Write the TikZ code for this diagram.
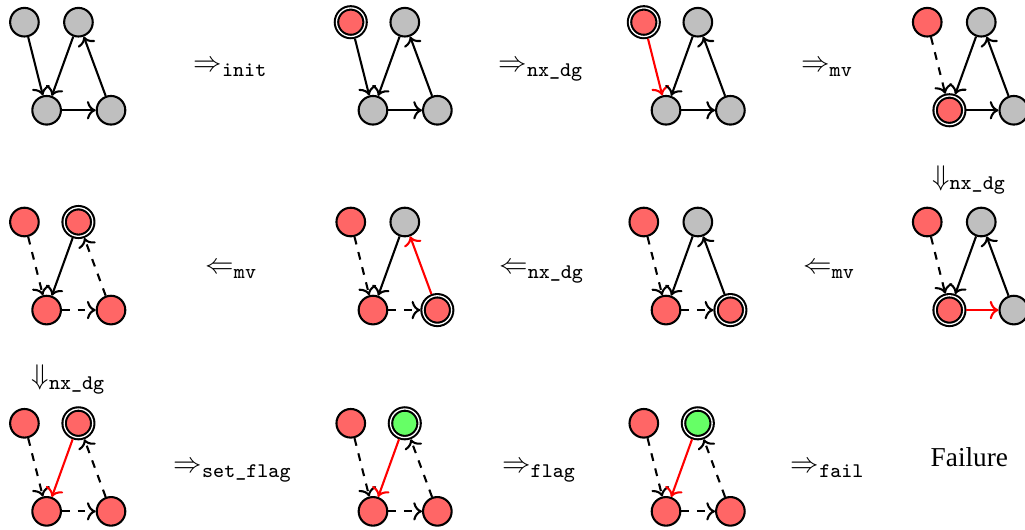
\documentclass[tikz,border=0pt,11pt]{standalone}
\usepackage{amsmath}
\usepackage[no-math]{fontspec}
\setmainfont{Liberation Serif}
\usepackage{tikz}
\usetikzlibrary{arrows,arrows.meta}
\tikzset{
    vertex/.style = {draw, circle, thick,
        minimum size=11pt,
        inner sep=0pt},
    gry/.style = {fill=black!25},
    rd/.style = {fill=red!60},
    grn/.style = {fill=green!60},
    cur/.style = {double, double distance=0.5pt, outer sep=1.05pt},
    conn/.style = {draw, ->, thick},
    done/.style = {dashed},
    act/.style = {red},
    lbl/.style = {anchor=base west, inner sep=0pt}
}

\begin{document}
\begin{tikzpicture}
    \useasboundingbox (0,0) rectangle (13.851,-7.149);
    % row 1
    \begin{scope}[shift={(0.33,-0.30)}]
        \node[vertex,gry] (g1a) at (0,0) {};
        \node[vertex,gry] (g1b) at (0.73,0) {};
        \node[vertex,gry] (g1c) at (0.30,-1.19) {};
        \node[vertex,gry] (g1d) at (1.17,-1.19) {};
    \end{scope}
        \draw[conn] (g1a) -- (g1c);
        \draw[conn] (g1b) -- (g1c);
        \draw[conn] (g1c) -- (g1d);
        \draw[conn] (g1d) -- (g1b);
    \begin{scope}[shift={(4.74,-0.30)}]
        \node[vertex,rd,cur] (g2a) at (0,0) {};
        \node[vertex,gry] (g2b) at (0.73,0) {};
        \node[vertex,gry] (g2c) at (0.30,-1.19) {};
        \node[vertex,gry] (g2d) at (1.17,-1.19) {};
    \end{scope}
        \draw[conn] (g2a) -- (g2c);
        \draw[conn] (g2b) -- (g2c);
        \draw[conn] (g2c) -- (g2d);
        \draw[conn] (g2d) -- (g2b);
    \begin{scope}[shift={(8.70,-0.30)}]
        \node[vertex,rd,cur] (g3a) at (0,0) {};
        \node[vertex,gry] (g3b) at (0.73,0) {};
        \node[vertex,gry] (g3c) at (0.30,-1.19) {};
        \node[vertex,gry] (g3d) at (1.17,-1.19) {};
    \end{scope}
        \draw[conn,act] (g3a) -- (g3c);
        \draw[conn] (g3b) -- (g3c);
        \draw[conn] (g3c) -- (g3d);
        \draw[conn] (g3d) -- (g3b);
    \begin{scope}[shift={(12.53,-0.30)}]
        \node[vertex,rd] (g4a) at (0,0) {};
        \node[vertex,gry] (g4b) at (0.73,0) {};
        \node[vertex,rd,cur] (g4c) at (0.30,-1.19) {};
        \node[vertex,gry] (g4d) at (1.17,-1.19) {};
    \end{scope}
        \draw[conn,done] (g4a) -- (g4c);
        \draw[conn] (g4b) -- (g4c);
        \draw[conn] (g4c) -- (g4d);
        \draw[conn] (g4d) -- (g4b);
    % row 2
    \begin{scope}[shift={(12.53,-3.00)}]
        \node[vertex,rd] (g5a) at (0,0) {};
        \node[vertex,gry] (g5b) at (0.73,0) {};
        \node[vertex,rd,cur] (g5c) at (0.30,-1.19) {};
        \node[vertex,gry] (g5d) at (1.17,-1.19) {};
    \end{scope}
        \draw[conn,done] (g5a) -- (g5c);
        \draw[conn] (g5b) -- (g5c);
        \draw[conn,act] (g5c) -- (g5d);
        \draw[conn] (g5d) -- (g5b);
    \begin{scope}[shift={(8.70,-3.00)}]
        \node[vertex,rd] (g6a) at (0,0) {};
        \node[vertex,gry] (g6b) at (0.73,0) {};
        \node[vertex,rd] (g6c) at (0.30,-1.19) {};
        \node[vertex,rd,cur] (g6d) at (1.17,-1.19) {};
    \end{scope}
        \draw[conn,done] (g6a) -- (g6c);
        \draw[conn] (g6b) -- (g6c);
        \draw[conn,done] (g6c) -- (g6d);
        \draw[conn] (g6d) -- (g6b);
    \begin{scope}[shift={(4.74,-3.00)}]
        \node[vertex,rd] (g7a) at (0,0) {};
        \node[vertex,gry] (g7b) at (0.73,0) {};
        \node[vertex,rd] (g7c) at (0.30,-1.19) {};
        \node[vertex,rd,cur] (g7d) at (1.17,-1.19) {};
    \end{scope}
        \draw[conn,done] (g7a) -- (g7c);
        \draw[conn] (g7b) -- (g7c);
        \draw[conn,done] (g7c) -- (g7d);
        \draw[conn,act] (g7d) -- (g7b);
    \begin{scope}[shift={(0.33,-3.00)}]
        \node[vertex,rd] (g8a) at (0,0) {};
        \node[vertex,rd,cur] (g8b) at (0.73,0) {};
        \node[vertex,rd] (g8c) at (0.30,-1.19) {};
        \node[vertex,rd] (g8d) at (1.17,-1.19) {};
    \end{scope}
        \draw[conn,done] (g8a) -- (g8c);
        \draw[conn] (g8b) -- (g8c);
        \draw[conn,done] (g8c) -- (g8d);
        \draw[conn,done] (g8d) -- (g8b);
    % row 3
    \begin{scope}[shift={(0.33,-5.72)}]
        \node[vertex,rd] (g9a) at (0,0) {};
        \node[vertex,rd,cur] (g9b) at (0.73,0) {};
        \node[vertex,rd] (g9c) at (0.30,-1.19) {};
        \node[vertex,rd] (g9d) at (1.17,-1.19) {};
    \end{scope}
        \draw[conn,done] (g9a) -- (g9c);
        \draw[conn,act] (g9b) -- (g9c);
        \draw[conn,done] (g9c) -- (g9d);
        \draw[conn,done] (g9d) -- (g9b);
    \begin{scope}[shift={(4.74,-5.72)}]
        \node[vertex,rd] (g10a) at (0,0) {};
        \node[vertex,grn,cur] (g10b) at (0.73,0) {};
        \node[vertex,rd] (g10c) at (0.30,-1.19) {};
        \node[vertex,rd] (g10d) at (1.17,-1.19) {};
    \end{scope}
        \draw[conn,done] (g10a) -- (g10c);
        \draw[conn,act] (g10b) -- (g10c);
        \draw[conn,done] (g10c) -- (g10d);
        \draw[conn,done] (g10d) -- (g10b);
    \begin{scope}[shift={(8.70,-5.72)}]
        \node[vertex,rd] (g11a) at (0,0) {};
        \node[vertex,grn,cur] (g11b) at (0.73,0) {};
        \node[vertex,rd] (g11c) at (0.30,-1.19) {};
        \node[vertex,rd] (g11d) at (1.17,-1.19) {};
    \end{scope}
        \draw[conn,done] (g11a) -- (g11c);
        \draw[conn,act] (g11b) -- (g11c);
        \draw[conn,done] (g11c) -- (g11d);
        \draw[conn,done] (g11d) -- (g11b);
    % steps
        \node[lbl] (s1) at (2.61,-0.97) {$\Rightarrow_{\texttt{init}}$};
        \node[lbl] (s2) at (6.73,-0.97) {$\Rightarrow_{\texttt{nx\_dg}}$};
        \node[lbl] (s3) at (10.82,-0.97) {$\Rightarrow_{\texttt{mv}}$};
        \node[lbl] (s4) at (12.59,-2.50) {$\Downarrow_{\texttt{nx\_dg}}$};
        \node[lbl] (s5) at (10.85,-3.70) {$\Leftarrow_{\texttt{mv}}$};
        \node[lbl] (s6) at (6.74,-3.70) {$\Leftarrow_{\texttt{nx\_dg}}$};
        \node[lbl] (s7) at (2.77,-3.70) {$\Leftarrow_{\texttt{mv}}$};
        \node[lbl] (s8) at (0.42,-5.20) {$\Downarrow_{\texttt{nx\_dg}}$};
        \node[lbl] (s9) at (2.34,-6.39) {$\Rightarrow_{\texttt{set\_flag}}$};
        \node[lbl] (s10) at (6.78,-6.39) {$\Rightarrow_{\texttt{flag}}$};
        \node[lbl] (s11) at (10.68,-6.39) {$\Rightarrow_{\texttt{fail}}$};
        \node[lbl,font=\fontsize{10.5pt}{12pt}\selectfont] (fail) at (12.57,-6.31) {Failure};
\end{tikzpicture}
\end{document}
